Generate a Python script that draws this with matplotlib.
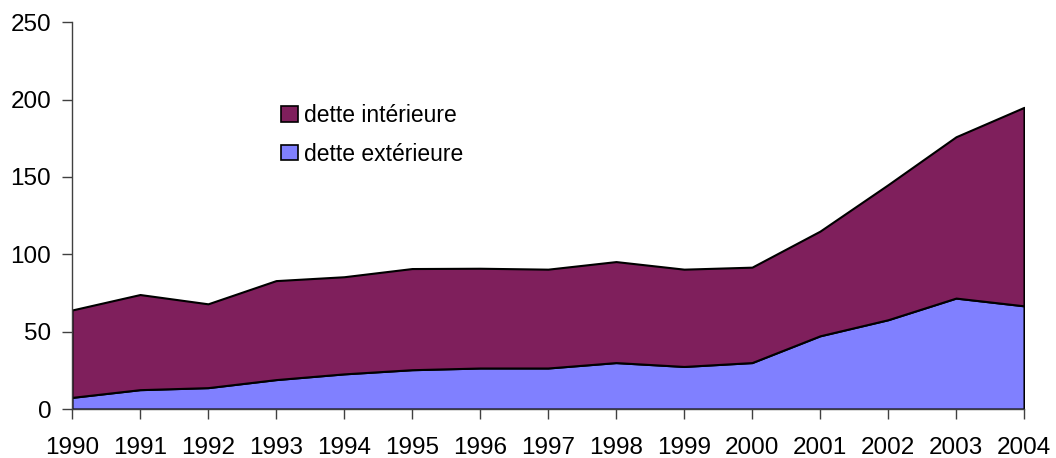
import matplotlib
matplotlib.use("Agg")
import matplotlib.pyplot as plt
from matplotlib.patches import Patch

years = list(range(1990, 2005))
exterieure = [7.5, 12.5, 13.8, 19, 22.7, 25.4, 26.5, 26.5, 30, 27.5, 30, 47.3, 57.7, 71.7, 66.7]
total = [64, 74, 68, 83, 85.5, 90.8, 91, 90.4, 95.3, 90.4, 91.7, 115, 145, 176, 195]
interieure = [t - e for t, e in zip(total, exterieure)]
labels = ["dette intérieure", "dette extérieure"]
col_int = "#7F1F5C"
col_ext = "#8080FF"

plt.rcParams['font.family'] = ['Liberation Sans', 'DejaVu Sans']

fig = plt.figure(figsize=(10.56, 4.58), dpi=100)
ax = fig.add_axes([72/1056, 1 - 409/458, (1024 - 72)/1056, (409 - 22.3)/458])

ax.stackplot(years, exterieure, interieure, colors=[col_ext, col_int],
             edgecolor="black", linewidth=1.5)

ax.set_xlim(1990, 2004)
ax.set_ylim(0, 250)
ax.set_xticks(years)
ax.set_xticklabels([str(y) for y in years])
ax.set_yticks([0, 50, 100, 150, 200, 250])

for s in ["top", "right"]:
    ax.spines[s].set_visible(False)
for s in ["left", "bottom"]:
    ax.spines[s].set_color("#404040")
    ax.spines[s].set_linewidth(1.0)

ax.tick_params(axis="x", direction="out", length=7, width=1, color="#404040",
               labelsize=17.5, pad=13)
ax.tick_params(axis="y", direction="out", length=7, width=1, color="#404040",
               labelsize=17.5, pad=8)

handles = [Patch(facecolor=col_int, edgecolor="black", linewidth=1.2),
           Patch(facecolor=col_ext, edgecolor="black", linewidth=1.2)]
fig.legend(handles, labels, loc="upper left", bbox_to_anchor=(281/1056, 1 - 104/458),
           frameon=False, fontsize=16.5, handlelength=0.75, handleheight=0.65,
           handletextpad=0.25, labelspacing=0.68, borderpad=0, borderaxespad=0)

fig.savefig("out.png", dpi=100)
